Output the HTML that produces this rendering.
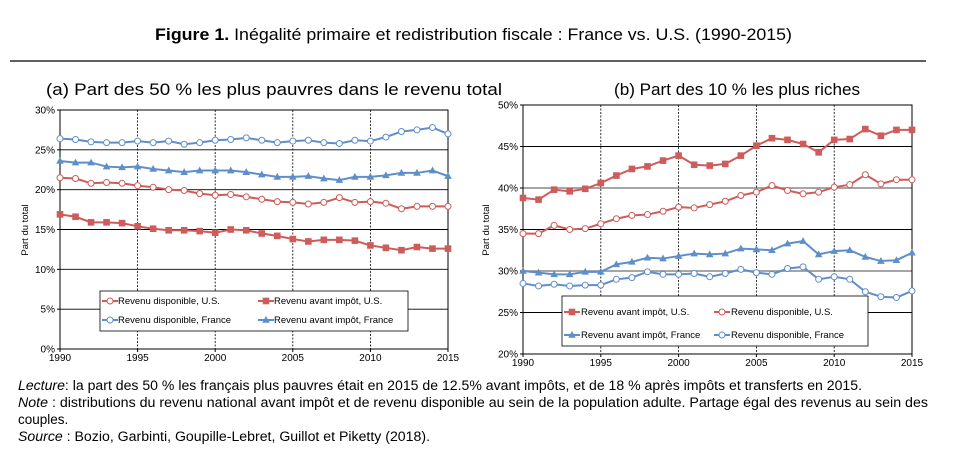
<!DOCTYPE html>
<html><head><meta charset="utf-8"><style>
html,body{margin:0;padding:0;background:#fff;}
svg{display:block;font-family:"Liberation Sans",sans-serif;}
</style></head><body>
<svg id="s" width="956" height="466" viewBox="0 0 956 466" xmlns="http://www.w3.org/2000/svg">
<rect width="956" height="466" fill="#fff"/>
<text x="155" y="40" font-size="17" textLength="637" lengthAdjust="spacingAndGlyphs"><tspan font-weight="bold">Figure 1.</tspan> Inégalité primaire et redistribution fiscale : France vs. U.S. (1990-2015)</text>
<line x1="10" y1="61" x2="926" y2="61" stroke="#000" stroke-width="1.3"/>
<text x="46" y="95" font-size="17" textLength="456" lengthAdjust="spacingAndGlyphs">(a) Part des 50 % les plus pauvres dans le revenu total</text>
<text x="614" y="95" font-size="17" textLength="246" lengthAdjust="spacingAndGlyphs">(b) Part des 10 % les plus riches</text>
<g font-size="13.5">
<text x="18" y="390" textLength="844" lengthAdjust="spacingAndGlyphs"><tspan font-style="italic">Lecture</tspan>: la part des 50 % les français plus pauvres était en 2015 de 12.5% avant impôts, et de 18 % après impôts et transferts en 2015.</text>
<text x="18" y="407" textLength="910" lengthAdjust="spacingAndGlyphs"><tspan font-style="italic">Note</tspan> : distributions du revenu national avant impôt et de revenu disponible au sein de la population adulte. Partage égal des revenus au sein des</text>
<text x="18" y="424">couples.</text>
<text x="18" y="441" textLength="412" lengthAdjust="spacingAndGlyphs"><tspan font-style="italic">Source</tspan> : Bozio, Garbinti, Goupille-Lebret, Guillot et Piketty (2018).</text>
</g>
<g id="g"></g>
<text transform="translate(28,230) rotate(-90)" font-size="9.5" text-anchor="middle">Part du total</text>
<text transform="translate(489,230) rotate(-90)" font-size="9.5" text-anchor="middle">Part du total</text>
<rect x="100" y="291" width="308" height="40" fill="#fff" stroke="#000" stroke-width="0.8"/>
<g font-size="9.5">
<text x="118" y="304">Revenu disponible, U.S.</text>
<text x="274" y="304">Revenu avant impôt, U.S.</text>
<text x="118" y="323">Revenu disponible, France</text>
<text x="274" y="323">Revenu avant impôt, France</text>
</g>
<rect x="562" y="296" width="306" height="50" fill="#fff" stroke="#000" stroke-width="0.8"/>
<g font-size="9.5">
<text x="581" y="315">Revenu avant impôt, U.S.</text>
<text x="731" y="315">Revenu disponible, U.S.</text>
<text x="581" y="338">Revenu avant impôt, France</text>
<text x="731" y="338">Revenu disponible, France</text>
</g>
<g id="lg"></g>
</svg>
<script>
var NS="http://www.w3.org/2000/svg",g=document.getElementById('g'),lg=document.getElementById('lg');
function el(t,a,p){var e=document.createElementNS(NS,t);for(var k in a)e.setAttribute(k,a[k]);(p||g).appendChild(e);return e;}
var R="#cd5c5a",B="#5f8fc8";
function mark(type,c,x,y,p){
 if(type=='c')el('circle',{cx:x,cy:y,r:3,fill:'#fff',stroke:c,'stroke-width':1},p);
 else if(type=='s')el('rect',{x:x-3.3,y:y-3.3,width:6.6,height:6.6,fill:c},p);
 else el('polygon',{points:(x)+','+(y-4)+' '+(x-3.8)+','+(y+2.8)+' '+(x+3.8)+','+(y+2.8),fill:c},p);
}
function chart(o){
 var X=function(i){return o.x0+(o.x1-o.x0)*i/25},Y=function(v){return o.y1-(v-o.vmin)/(o.vmax-o.vmin)*(o.y1-o.y0)};
 for(var v=o.vmin;v<=o.vmax;v+=5){var y=Y(v);
  var gr=o.grey&&o.grey.indexOf(v)>=0;
  if(v>o.vmin)el('line',{x1:o.x0,y1:y,x2:o.x1,y2:y,stroke:gr?'#888':'#000','stroke-width':gr?1.5:0.9});
  el('line',{x1:o.x0-3,y1:y,x2:o.x0,y2:y,stroke:'#000'});
  var t=el('text',{x:o.x0-5,y:y+3.5,'font-size':10,'text-anchor':'end'});t.textContent=v+'%';}
 for(var i=5;i<25;i+=5)el('line',{x1:X(i),y1:o.y0,x2:X(i),y2:o.y1,stroke:'#000','stroke-width':0.8,'stroke-dasharray':'2,1.5'});
 el('rect',{x:o.x0,y:o.y0,width:o.x1-o.x0,height:o.y1-o.y0,fill:'none',stroke:'#000','stroke-width':1});
 for(var i=0;i<=25;i+=5){var t=el('text',{x:X(i),y:o.y1+12,'font-size':10,'text-anchor':'middle'});t.textContent=1990+i;
  el('line',{x1:X(i),y1:o.y1,x2:X(i),y2:o.y1+3,stroke:'#000'});}
 o.s.forEach(function(s){var pts=s.d.map(function(v,i){return X(i)+','+Y(v)}).join(' ');
  el('polyline',{points:pts,fill:'none',stroke:s.c,'stroke-width':2});
  s.d.forEach(function(v,i){mark(s.m,s.c,X(i),Y(v))});});
}
chart({x0:60,x1:448,y0:110,y1:349,vmin:0,vmax:30,s:[
{c:R,m:'c',d:[21.5,21.4,20.8,20.9,20.8,20.5,20.3,20.0,19.9,19.5,19.3,19.4,19.1,18.8,18.5,18.4,18.2,18.4,19.0,18.4,18.5,18.3,17.6,17.9,17.9,17.9]},
{c:R,m:'s',d:[16.9,16.6,15.9,15.9,15.8,15.4,15.1,14.9,14.9,14.8,14.6,15.0,14.9,14.5,14.2,13.8,13.5,13.7,13.7,13.6,13.0,12.7,12.4,12.8,12.6,12.6]},
{c:B,m:'c',d:[26.4,26.3,26.0,25.9,25.9,26.1,25.9,26.1,25.7,25.9,26.2,26.3,26.5,26.2,25.9,26.1,26.2,25.9,25.8,26.2,26.1,26.6,27.3,27.5,27.8,27.0]},
{c:B,m:'t',d:[23.6,23.4,23.4,22.9,22.8,22.9,22.6,22.4,22.2,22.4,22.4,22.4,22.2,21.9,21.6,21.6,21.7,21.4,21.2,21.6,21.6,21.8,22.1,22.1,22.4,21.7]}]});
chart({x0:523,x1:912,y0:105,y1:354,vmin:20,vmax:50,grey:[30,40],s:[
{c:R,m:'s',d:[38.8,38.6,39.8,39.6,39.9,40.6,41.5,42.3,42.6,43.3,43.9,42.8,42.7,42.9,43.9,45.1,46.0,45.8,45.3,44.3,45.8,45.9,47.1,46.3,47.0,47.0]},
{c:R,m:'c',d:[34.5,34.5,35.5,35.0,35.1,35.7,36.3,36.7,36.8,37.2,37.7,37.6,38.0,38.4,39.1,39.5,40.3,39.7,39.3,39.5,40.1,40.4,41.6,40.5,41.0,41.0]},
{c:B,m:'t',d:[30.0,29.8,29.6,29.6,29.9,29.9,30.8,31.1,31.6,31.5,31.8,32.1,32.0,32.1,32.7,32.6,32.5,33.3,33.6,32.0,32.4,32.5,31.7,31.2,31.3,32.2]},
{c:B,m:'c',d:[28.5,28.2,28.4,28.2,28.3,28.3,29.0,29.2,29.9,29.6,29.6,29.7,29.3,29.7,30.2,29.8,29.6,30.3,30.5,29.0,29.3,29.0,27.5,26.9,26.8,27.6]}]});
function ls(x,y,c,m){el('line',{x1:x,y1:y,x2:x+16,y2:y,stroke:c,'stroke-width':2},lg);mark(m,c,x+8,y,lg);}
ls(102,301,R,'c');ls(258,301,R,'s');ls(102,320,B,'c');ls(258,320,B,'t');
ls(564,312,R,'s');ls(714,312,R,'c');ls(564,335,B,'t');ls(714,335,B,'c');
</script>
</body></html>
